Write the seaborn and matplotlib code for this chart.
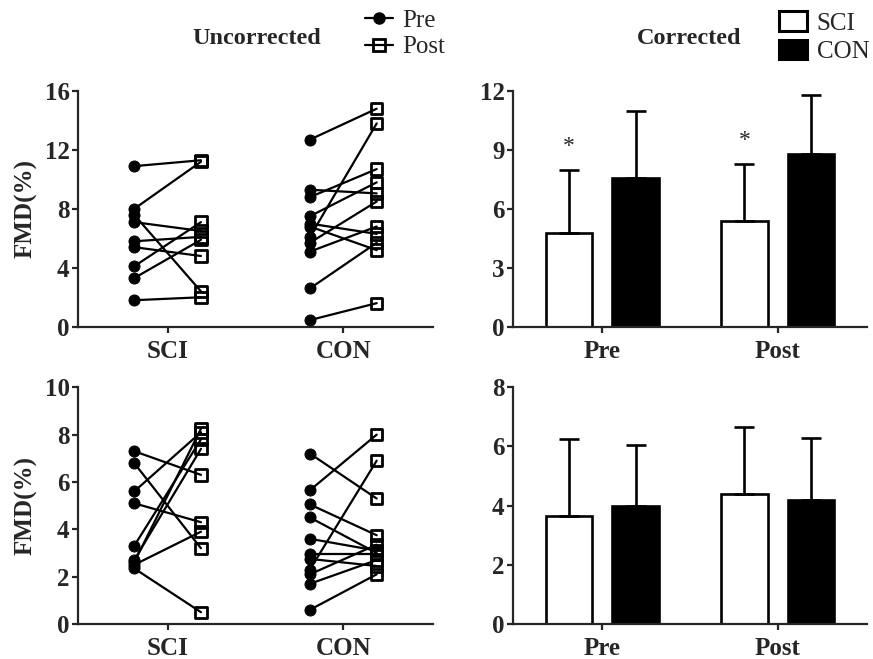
import numpy as np
import pandas as pd
import seaborn as sns
import matplotlib.pyplot as plt
from matplotlib.lines import Line2D
from matplotlib.patches import Patch

# FMD (%) per subject; pre[i] pairs with post[i]
sci_pre_unc = [10.9, 8.0, 7.6, 7.1, 5.8, 5.4, 4.1, 3.3, 1.8]
sci_post_unc = [11.3, 11.2, 2.4, 6.5, 6.1, 4.8, 7.1, 5.9, 2.0]
con_pre_unc = [12.7, 9.3, 8.8, 7.5, 7.0, 6.8, 6.1, 5.7, 5.1, 2.6, 0.45]
con_post_unc = [14.8, 9.05, 10.7, 9.8, 6.3, 5.2, 13.8, 8.5, 6.8, 5.7, 1.6]

sci_pre_cor = [7.3, 6.8, 5.6, 5.1, 3.3, 2.7, 2.6, 2.5, 2.35]
sci_post_cor = [6.3, 3.2, 8.1, 4.3, 7.8, 7.4, 8.25, 3.9, 0.5]
con_pre_cor = [7.2, 5.65, 5.05, 4.5, 3.6, 2.95, 2.75, 2.3, 2.1, 1.7, 0.6]
con_post_cor = [5.3, 8.0, 3.75, 3.0, 3.1, 2.95, 2.45, 6.9, 3.35, 2.7, 2.1]

# group means and SD (Pre, Post)
sci_mean_a = [4.78, 5.39]
con_mean_a = [7.59, 8.78]
sci_sd_a = [3.22, 2.91]
con_sd_a = [3.38, 3.00]
star_y_a = [9.2, 9.5]   # * above SCI bars

sci_mean_b = [3.66, 4.39]
con_mean_b = [3.99, 4.19]
sci_sd_b = [2.58, 2.28]
con_sd_b = [2.06, 2.09]

groups = ['SCI', 'CON']
times = ['Pre', 'Post']
shift = 0.19

sns.set_theme(style='ticks')
plt.rcParams['font.family'] = ['Liberation Serif', 'DejaVu Serif']
plt.rcParams['font.weight'] = 'bold'
plt.rcParams['axes.labelweight'] = 'bold'


def paired_frame(sci_pre, sci_post, con_pre, con_post):
    rows = []
    for gi, (g, pre, post) in enumerate([('SCI', sci_pre, sci_post), ('CON', con_pre, con_post)]):
        for i, (a, b) in enumerate(zip(pre, post)):
            rows.append((f'{g}{i}', g, 'Pre', gi - shift, a))
            rows.append((f'{g}{i}', g, 'Post', gi + shift, b))
    return pd.DataFrame(rows, columns=['subject', 'group', 'time', 'x', 'fmd'])


def style_axis(ax, ymax, step):
    ax.set_xlim(-0.51, 1.51)
    ax.set_ylim(0, ymax)
    ax.set_yticks(np.arange(0, ymax + 0.01, step))
    ax.tick_params(labelsize=18, width=1.6, length=4.5, pad=1.5)
    ax.tick_params(axis='x', pad=5)
    for s in ['left', 'bottom']:
        ax.spines[s].set_linewidth(1.6)
    sns.despine(ax=ax)
    ax.set_xlabel('')


def draw_paired(ax, df, ymax, step):
    sns.lineplot(data=df, x='x', y='fmd', units='subject', estimator=None,
                 color='black', lw=1.6, ax=ax, legend=False, zorder=2)
    pre = df[df.time == 'Pre']
    post = df[df.time == 'Post']
    sns.scatterplot(data=pre, x='x', y='fmd', marker='o', s=64, color='black',
                    edgecolor='black', ax=ax, zorder=3, clip_on=False)
    sns.scatterplot(data=post, x='x', y='fmd', marker='s', s=66, color='black',
                    facecolor='none', edgecolor='black', linewidth=2.0,
                    ax=ax, zorder=3, clip_on=False)
    style_axis(ax, ymax, step)
    ax.set_xticks([0, 1])
    ax.set_xticklabels(groups)
    ax.set_ylabel('FMD(%)', fontsize=18, labelpad=5)


def draw_bars(ax, sci_mean, con_mean, sci_sd, con_sd, ymax, step):
    df = pd.DataFrame({'time': times * 2, 'group': ['SCI'] * 2 + ['CON'] * 2,
                       'fmd': sci_mean + con_mean, 'sd': sci_sd + con_sd})
    sns.barplot(data=df, x='time', y='fmd', hue='group', order=times, hue_order=groups,
                palette={'SCI': 'white', 'CON': 'black'}, edgecolor='black',
                linewidth=1.9, width=0.76, gap=0.3, errorbar=None, legend=False, ax=ax)
    centers = {}
    for cont, g in zip(ax.containers, groups):
        sub = df[df.group == g].set_index('time').loc[times]
        xs = [b.get_x() + b.get_width() / 2 for b in cont]
        centers[g] = xs
        ax.errorbar(xs, sub.fmd, yerr=[np.zeros(len(xs)), sub.sd], fmt='none',
                    ecolor='black', elinewidth=1.9, capsize=7, capthick=1.9, zorder=3)
    style_axis(ax, ymax, step)
    ax.set_ylabel('')
    return centers


fig = plt.figure(figsize=(8.73, 6.59), dpi=100)
ax1 = fig.add_axes([0.0893, 0.5042, 0.4066, 0.3577])
ax2 = fig.add_axes([0.5876, 0.5042, 0.4055, 0.3577])
ax3 = fig.add_axes([0.0893, 0.0531, 0.4066, 0.3592])
ax4 = fig.add_axes([0.5876, 0.0531, 0.4055, 0.3592])

draw_paired(ax1, paired_frame(sci_pre_unc, sci_post_unc, con_pre_unc, con_post_unc), 16, 4)
draw_paired(ax3, paired_frame(sci_pre_cor, sci_post_cor, con_pre_cor, con_post_cor), 10, 2)

c = draw_bars(ax2, sci_mean_a, con_mean_a, sci_sd_a, con_sd_a, 12, 3)
for x, y in zip(c['SCI'], star_y_a):
    ax2.text(x, y, '*', ha='center', va='center', fontsize=17, fontweight='normal')
draw_bars(ax4, sci_mean_b, con_mean_b, sci_sd_b, con_sd_b, 8, 2)

fig.text(257 / 873, 1 - 38 / 659, 'Uncorrected', ha='center', va='center',
         fontsize=17.5, fontweight='bold')
fig.text(689 / 873, 1 - 38 / 659, 'Corrected', ha='center', va='center',
         fontsize=17.5, fontweight='bold')

h1 = [Line2D([], [], color='black', marker='o', ms=8, lw=1.6),
      Line2D([], [], color='black', marker='s', mfc='none', ms=8, mew=2.0, lw=1.6)]
fig.legend(h1, times, loc='center left', bbox_to_anchor=(365 / 873, 1 - 34 / 659),
           frameon=False, prop={'size': 18, 'weight': 'normal'}, handlelength=1.1,
           handletextpad=0.4, labelspacing=0.15, borderpad=0, borderaxespad=0)

h2 = [Patch(facecolor='white', edgecolor='black', lw=2.2),
      Patch(facecolor='black', edgecolor='black', lw=2.2)]
fig.legend(h2, groups, loc='center left', bbox_to_anchor=(779 / 873, 1 - 37 / 659),
           frameon=False, prop={'size': 18, 'weight': 'normal'}, handlelength=1.1,
           handleheight=0.85, handletextpad=0.4, labelspacing=0.2, borderpad=0,
           borderaxespad=0)

fig.savefig('out.png', dpi=100)
